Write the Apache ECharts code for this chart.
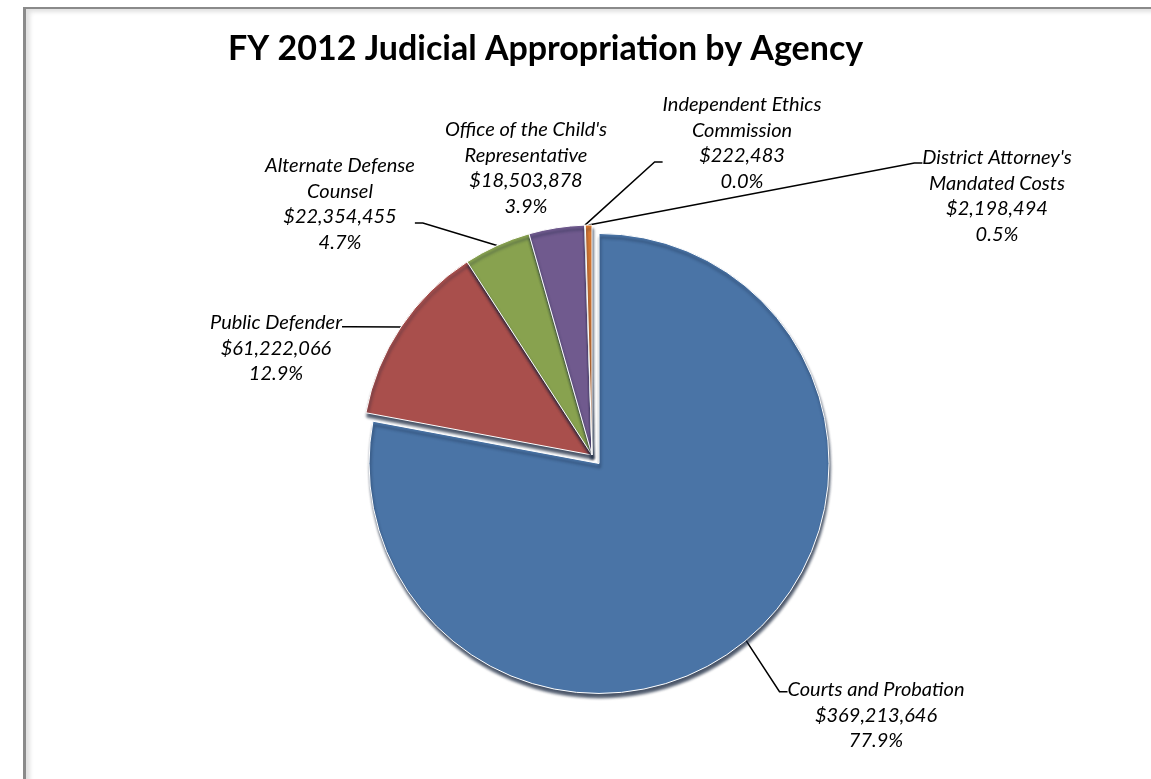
<!DOCTYPE html>
<html>
<head>
<meta charset="utf-8">
<script src="https://cdn.jsdelivr.net/npm/echarts@6/dist/echarts.min.js"></script>
<style>
  html, body { margin: 0; padding: 0; background: #fff; }
  #frame {
    position: absolute; left: 23px; top: 7px; width: 1126px; height: 800px;
    border-top: 2px solid #8a8a8a; border-left: 3px solid #8a8a8a; border-right: 1px solid #e2e2e2;
    box-shadow: inset 4px 3px 4px rgba(0,0,0,0.12);
  }
  #chart { position: absolute; left: 0; top: 0; width: 1151px; height: 779px; }
</style>
</head>
<body>
<div id="frame"></div>
<div id="chart"></div>
<script>
const titleText = 'FY 2012 Judicial Appropriation by Agency';
const categories = [
  'Courts and Probation',
  'Public Defender',
  'Alternate Defense\nCounsel',
  "Office of the Child's\nRepresentative",
  'Independent Ethics\nCommission',
  "District Attorney's\nMandated Costs"
];
const values = [369213646, 61222066, 22354455, 18503878, 222483, 2198494];
const colors = ['#4a74a6', '#a94f4c', '#88a24f', '#705a8e', '#3f98ae', '#df7b30'];
const explodedIndex = 0;

// label placement (center x, top of text block), and padding used to set where the leader line meets the label
const labelPos = [
  { x: 876, top: 677, pad: [47, 0, 0, 0], line: true },
  { x: 276, top: 310, pad: [43, 0, 0, 0], line: true },
  { x: 340, top: 153, pad: [0, 0, 38, 0], line: true },
  { x: 526, top: 117, pad: [0, 0, 0, 0], line: false },
  { x: 742, top: 92, pad: [0, 0, 38, 0], line: true },
  { x: 997, top: 145, pad: [66, 0, 0, 0], line: true }
];

const total = values.reduce((a, b) => a + b, 0);
const baseCenter = [592, 455];
const explodeDist = 11;

// mid angle of the exploded slice (start at 12 o'clock, clockwise)
let before = 0;
for (let i = 0; i < explodedIndex; i++) before += values[i];
const midFrac = (before + values[explodedIndex] / 2) / total;
const midAng = Math.PI / 2 - midFrac * 2 * Math.PI;
const explodedCenter = [baseCenter[0] + explodeDist * Math.cos(midAng), baseCenter[1] - explodeDist * Math.sin(midAng)];

const chart = echarts.init(document.getElementById('chart'), null, { renderer: 'canvas' });

function makeSeries(center, includeFn) {
  return {
    type: 'pie',
    center: center,
    radius: 230,
    startAngle: 90,
    clockwise: true,
    avoidLabelOverlap: false,
    silent: true,
    itemStyle: {
      borderColor: '#ffffff', borderWidth: 1,
      shadowColor: 'rgba(15,30,55,0.75)', shadowBlur: 3, shadowOffsetX: 1, shadowOffsetY: 4
    },
    emphasis: { disabled: true },
    label: {
      show: true,
      position: 'outside',
      fontFamily: 'Lato',
      fontStyle: 'italic',
      fontSize: 20,
      lineHeight: 25.5,
      color: '#000',
      formatter: function (p) {
        return p.name + '\n$' + p.value.toLocaleString('en-US') + '\n' + (p.value / total * 100).toFixed(1) + '%';
      }
    },
    labelLine: {
      show: true,
      length: 10,
      length2: 8,
      lineStyle: { color: '#000', width: 1.5 }
    },
    labelLayout: function (params) {
      const lp = labelPos[params.dataIndex];
      return { x: lp.x, y: lp.top - lp.pad[0], align: 'center', verticalAlign: 'top' };
    },
    data: categories.map((name, i) => {
      const inc = includeFn(i);
      return {
        name: name,
        value: values[i],
        itemStyle: inc ? { color: colors[i] } : { color: 'rgba(0,0,0,0)', opacity: 0, borderWidth: 0, shadowBlur: 0, shadowOffsetX: 0, shadowOffsetY: 0 },
        label: inc ? { padding: labelPos[i].pad } : { show: false },
        labelLine: { show: inc && labelPos[i].line }
      };
    })
  };
}

chart.setOption({
  animation: false,
  title: {
    text: titleText,
    left: 228, top: 32, padding: 0,
    textStyle: { fontFamily: 'Lato', fontWeight: 'bold', fontSize: 34, color: '#000' }
  },
  series: [
    makeSeries(baseCenter, i => i !== explodedIndex),
    makeSeries(explodedCenter, i => i === explodedIndex)
  ]
});
</script>
</body>
</html>
